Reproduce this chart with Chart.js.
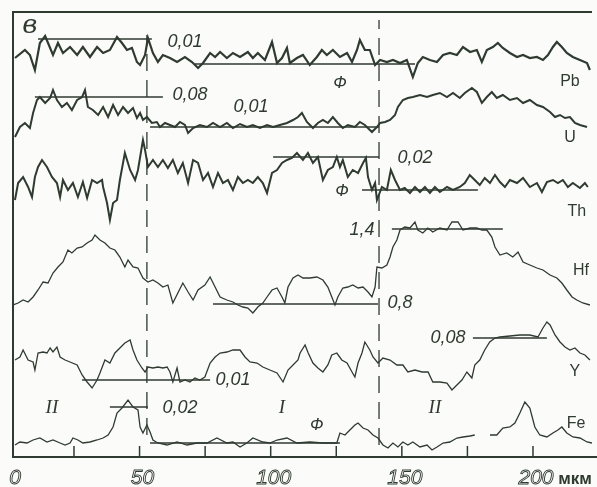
<!DOCTYPE html>
<html>
<head>
<meta charset="utf-8">
<script src="https://cdn.jsdelivr.net/npm/chart.js@4/dist/chart.umd.min.js"></script>
<style>
  html, body { margin: 0; padding: 0; background: #fbfcf9; }
  canvas { display: block; }
</style>
</head>
<body>
<canvas id="c" width="597" height="487"></canvas>
<script>
// Microprobe profiles across the grain, distance in µm; each element trace is offset vertically.
const pb = [[2.5,399],[6.3,407],[8.2,402],[10.1,387],[12.0,414],[14.0,421],[17.0,402],[18.9,414],[20.8,404],[23.5,410],[26.2,402],[28.4,410],[31.1,400],[33.8,410],[36.1,404],[38.7,407],[41.4,420],[43.3,414],[45.2,407],[47.1,409],[49.0,395],[50.2,392],[52.1,402],[53.2,419],[55.1,404],[57.0,395],[58.9,402],[61.6,399],[64.3,395],[67.3,400],[70.0,395],[72.3,389],[74.2,394],[76.9,404],[78.8,400],[80.7,405],[83.3,399],[85.6,404],[88.3,400],[91.3,405],[93.2,399],[95.1,404],[97.8,397],[100.5,415],[102.4,394],[104.3,399],[106.2,409],[107.3,394],[110.0,399],[112.3,402],[114.9,392],[117.6,400],[119.5,407],[121.4,402],[123.7,407],[126.4,400],[129.1,404],[131.0,395],[132.9,407],[134.0,417],[135.9,407],[137.8,407],[139.8,392],[141.7,397],[144.3,395],[146.6,397],[149.3,394],[151.9,397],[154.2,380],[156.1,394],[158.0,400],[160.7,397],[163.4,395],[165.7,402],[168.3,404],[171.0,402],[173.3,410],[176.0,405],[178.6,407],[180.5,395],[182.4,407],[184.7,410],[186.6,414],[188.5,409],[191.2,404],[193.9,400],[196.2,402],[198.8,399],[201.5,400],[203.8,397],[205.7,402],[207.6,410],[209.1,415],[211.0,410],[212.9,404],[215.2,400],[217.9,397],[220.6,394],[221.7,387]];

const u = [[2.5,320],[4.4,330],[6.3,334],[8.2,329],[9.4,344],[10.9,357],[12.0,360],[14.0,354],[15.9,359],[17.0,367],[18.5,357],[20.4,350],[22.3,354],[24.2,347],[26.2,357],[28.1,360],[29.2,367],[30.3,350],[32.2,347],[34.2,342],[36.1,350],[38.0,340],[39.9,352],[41.8,342],[43.7,350],[45.6,344],[47.5,349],[49.0,339],[50.2,344],[51.3,337],[52.8,340],[54.7,334],[56.6,335],[57.8,330],[59.7,334],[61.6,332],[63.5,330],[65.4,335],[67.3,332],[68.5,324],[70.4,329],[73.0,332],[75.7,330],[78.0,334],[80.7,330],[83.3,334],[85.6,329],[88.3,333],[91.0,330],[93.2,332],[95.9,329],[98.6,332],[100.9,330],[103.5,332],[106.2,334],[108.5,337],[110.4,340],[111.9,344],[113.8,335],[116.1,329],[118.0,334],[119.9,337],[121.8,334],[123.7,340],[125.6,334],[127.5,329],[129.4,332],[132.1,330],[134.0,335],[135.9,332],[138.6,325],[140.5,330],[141.7,334],[143.6,335],[145.5,337],[147.4,342],[148.5,350],[150.4,357],[152.3,359],[154.2,360],[156.9,362],[159.6,360],[161.8,362],[164.5,364],[167.2,360],[169.5,364],[172.1,359],[174.0,364],[176.7,369],[178.6,365],[180.5,354],[182.4,360],[184.3,365],[186.2,359],[188.5,362],[191.2,357],[193.9,359],[196.2,354],[198.8,357],[201.5,352],[203.8,350],[206.5,345],[208.4,340],[210.3,342],[212.2,339],[214.1,340],[216.0,334],[217.9,332],[220.6,330]];

const th = [[2.5,257],[3.7,274],[5.6,280],[7.5,270],[9.0,260],[10.1,280],[11.3,290],[12.8,297],[14.7,290],[16.6,280],[18.5,274],[19.7,260],[20.8,277],[22.7,267],[24.6,274],[26.5,260],[28.4,275],[30.0,259],[31.9,277],[33.8,274],[35.7,277],[36.1,270],[37.6,254],[38.7,237],[39.9,254],[41.4,257],[42.5,277],[44.4,304],[46.4,287],[48.3,277],[49.4,287],[51.3,317],[52.1,307],[53.2,290],[55.1,297],[57.0,290],[58.9,297],[60.8,289],[62.7,297],[64.6,284],[66.5,294],[68.5,274],[70.4,297],[72.3,294],[74.2,277],[76.1,284],[78.0,270],[79.9,284],[81.8,274],[83.7,277],[85.6,267],[87.5,280],[89.4,274],[91.3,277],[93.2,274],[95.1,280],[97.0,274],[98.6,264],[100.5,284],[102.4,287],[104.3,294],[106.2,297],[108.1,299],[110.0,304],[112.3,297],[114.2,304],[116.1,294],[118.0,300],[119.9,277],[121.8,287],[123.7,290],[125.2,300],[126.4,290],[127.5,297],[129.4,280],[131.3,287],[133.3,284],[135.2,294],[136.3,299],[137.1,280],[138.6,267],[139.8,274],[140.5,257],[142.4,270],[144.3,267],[145.8,287],[147.4,277],[149.3,267],[151.1,269],[153.1,264],[155.0,270],[156.9,265],[158.8,270],[160.7,264],[162.6,270],[164.5,265],[167.2,270],[169.5,267],[172.1,270],[174.0,274],[175.9,282],[177.8,277],[179.7,272],[181.6,279],[183.6,274],[185.5,282],[187.4,275],[189.3,270],[191.2,277],[193.9,274],[196.2,279],[198.8,270],[201.5,274],[203.4,265],[205.3,275],[207.6,277],[209.5,274],[211.4,277],[213.3,270],[215.2,274],[217.9,269],[219.8,274],[220.9,270]];

const hf = [[1.8,152],[3.7,154],[5.6,157],[7.5,155],[9.4,160],[11.3,167],[13.2,175],[15.1,174],[17.0,184],[18.9,190],[20.8,195],[22.7,207],[24.2,204],[26.2,209],[28.1,210],[30.0,214],[31.9,217],[33.0,222],[34.9,217],[36.8,214],[38.7,209],[40.6,207],[42.5,200],[44.4,190],[45.6,197],[47.5,190],[49.4,189],[51.3,179],[53.2,175],[55.1,177],[57.0,174],[58.9,170],[60.8,172],[62.7,154],[64.6,164],[66.5,174],[68.5,165],[70.4,157],[72.3,167],[74.9,172],[76.9,180],[78.8,170],[80.7,160],[83.3,157],[85.6,155],[87.5,152],[89.4,150],[91.3,149],[93.2,144],[95.1,150],[97.0,154],[98.6,160],[100.5,167],[102.4,169],[104.3,160],[105.4,154],[106.6,170],[108.5,179],[110.4,182],[112.3,179],[114.9,179],[117.6,180],[119.9,177],[121.8,170],[123.3,160],[124.5,152],[125.6,160],[127.5,169],[129.4,170],[131.3,172],[133.3,169],[135.2,170],[137.1,165],[138.6,160],[139.8,170],[140.5,190],[142.4,189],[144.3,192],[145.5,200],[146.6,210],[148.1,217],[149.3,227],[151.1,230],[153.1,229],[155.0,235],[156.1,227],[158.0,224],[159.9,229],[161.8,225],[164.5,229],[167.2,227],[169.1,235],[171.4,235],[173.3,227],[176.0,229],[178.6,229],[180.5,227],[182.4,227],[184.3,220],[185.5,210],[187.4,202],[190.0,204],[192.3,200],[194.3,205],[196.2,195],[198.8,192],[201.5,189],[203.8,187],[206.5,182],[209.1,179],[211.0,174],[212.9,167],[214.9,160],[216.7,157],[219.0,154],[221.7,152]];

const yt = [[2.5,97],[4.4,100],[5.6,107],[7.5,97],[9.4,95],[10.1,87],[11.3,104],[13.2,105],[14.7,104],[15.9,109],[17.0,105],[18.5,110],[19.7,100],[21.6,97],[23.5,95],[26.2,92],[28.1,82],[30.0,75],[31.9,69],[33.8,77],[34.9,84],[36.8,97],[38.7,94],[40.6,104],[42.5,109],[44.4,114],[46.4,117],[47.5,107],[49.0,97],[50.9,89],[52.1,85],[53.2,90],[55.1,89],[57.0,90],[58.9,89],[60.5,90],[61.6,85],[62.7,75],[64.3,89],[65.4,75],[67.3,77],[69.2,75],[71.1,79],[73.0,77],[74.9,80],[76.9,94],[78.8,100],[80.7,104],[83.3,105],[85.6,107],[88.3,107],[90.2,100],[92.1,95],[94.8,94],[97.0,90],[99.7,87],[102.4,84],[104.7,75],[106.6,87],[108.5,92],[110.4,97],[111.2,104],[113.1,112],[114.3,104],[116.1,94],[118.0,89],[119.9,85],[121.8,92],[123.3,102],[125.2,104],[127.1,97],[129.1,94],[131.0,85],[132.1,80],[133.3,94],[134.8,104],[135.9,115],[137.8,107],[139.0,100],[140.9,94],[142.8,99],[145.5,97],[148.1,92],[150.4,92],[152.3,85],[155.0,87],[157.7,85],[160.0,85],[161.8,75],[164.5,75],[167.2,74],[169.1,67],[171.0,72],[172.9,77],[174.8,85],[176.7,79],[177.8,92],[179.7,97],[181.6,107],[183.5,115],[185.5,119],[187.4,120],[191.2,121],[195.0,122],[198.8,122],[201.9,120],[203.8,129],[205.3,135],[206.5,132],[208.4,122],[210.3,115],[212.2,110],[214.1,107],[216.0,109],[217.9,104],[219.8,102],[221.7,97]];

const fe = [[2.5,12],[4.4,15],[7.1,14],[9.4,17],[12.0,19],[14.7,15],[17.0,17],[19.7,14],[21.6,12],[23.5,14],[24.6,19],[26.5,17],[28.4,14],[31.1,15],[33.8,17],[36.1,19],[38.0,22],[39.9,30],[41.4,44],[43.3,49],[45.6,57],[47.5,50],[49.4,47],[50.2,30],[51.3,24],[52.8,32],[54.0,25],[55.1,17],[57.0,14],[60.5,12],[64.3,15],[68.1,12],[71.9,14],[75.7,14],[79.5,19],[83.3,14],[85.6,15],[88.3,10],[90.9,14],[93.2,19],[97.0,15],[99.7,14],[102.4,17],[106.2,19],[110.0,14],[114.9,15],[119.9,14],[125.2,14],[126.4,24],[128.3,22],[130.2,27],[132.1,32],[133.3,34],[135.2,29],[137.1,27],[139.0,22],[140.9,19],[142.8,12],[144.7,9],[146.6,14],[148.5,10],[150.4,15],[152.3,12],[154.2,15],[156.9,10],[159.6,12],[161.5,7],[163.4,10],[165.7,14],[168.3,15],[171.0,19],[173.3,20],[176.0,21],[177.8,22],[179.0,null],[183.6,22],[186.2,22],[188.5,29],[191.2,30],[193.1,34],[195.0,44],[196.9,55],[198.8,49],[200.7,30],[202.6,22],[205.3,20],[207.6,24],[209.5,27],[211.0,30],[212.9,24],[215.2,20],[217.9,19],[220.6,15],[222.5,14]];

// Concentration levels: [from µm, to µm, level]
const pbLevels = [[11.3,54.7,418],[71.1,155.0,393]];
const uLevels  = [[10.1,58.9,360],[54.0,141.3,330]];
const thLevels = [[100.9,141.3,300],[134.8,179.0,267]];
const hfLevels = [[146.2,188.5,228],[78.0,140.9,153]];
const yLevels  = [[28.1,76.9,77],[177.1,205.3,119]];
const feLevels = [[38.7,53.2,50],[54.0,126.4,14]];

// Zone boundaries (µm) and their vertical extent
const boundaries = [[52.8, 22, 422], [141.3, 12, 437]];

const xTicks = [0, 50, 100, 150, 200];
const xMinorTicks = [25, 50, 75, 100, 125, 150, 175, 200];

const INK = '#2f3a30';

// Text placed on the plot: [text, µm, level, kind]
const notes = [
  ['в', 8.2, 431, 'panel'],
  ['0,01', 67.3, 415, 'conc'], ['Ф', 126.4, 374, 'phase'], ['Pb', 214.1, 375, 'elem'],
  ['0,08', 69.2, 362, 'conc'], ['0,01', 92.5, 350, 'conc'], ['U', 214.1, 319, 'elem'],
  ['0,02', 155.0, 299, 'conc'], ['Ф', 127.2, 266, 'phase'], ['Th', 216.7, 245, 'elem'],
  ['1,4', 134.8, 227, 'conc'], ['0,8', 149.3, 154, 'conc'], ['Hf', 218.3, 186, 'elem'],
  ['0,01', 85.6, 77, 'conc'], ['0,08', 167.6, 119, 'conc'], ['Y', 216.0, 85, 'elem'],
  ['II', 16.6, 49, 'zone'], ['I', 104.3, 49, 'zone'], ['II', 162.6, 49, 'zone'],
  ['0,02', 65.4, 49, 'conc'], ['Ф', 117.6, 32, 'phase'], ['Fe', 216.4, 33, 'elem']
];

const toPts = arr => arr.map(([x, y]) => ({ x, y }));

function trace(data, width) {
  return { data: toPts(data), borderColor: INK, borderWidth: width, pointRadius: 0,
           tension: 0, spanGaps: false, fill: false };
}
function levels(list) {
  return list.map(([a, b, v]) => ({
    data: [{ x: a, y: v }, { x: b, y: v }], borderColor: INK, borderWidth: 1.3,
    pointRadius: 0, fill: false
  }));
}
const boundarySets = boundaries.map(([x, y0, y1]) => ({
  data: [{ x, y: y0 }, { x, y: y1 }], borderColor: INK, borderWidth: 1.3,
  borderDash: [17, 9], pointRadius: 0, fill: false
}));

const fonts = {
  panel: 'italic 26px "DejaVu Serif"',
  conc:  'italic 18px "Liberation Sans"',
  phase: 'italic 17px "Liberation Sans"',
  elem:  '16px "Liberation Sans Narrow", "Liberation Sans"',
  zone:  'italic 19px "Liberation Serif"'
};

const decor = {
  id: 'decor',
  afterDraw(chart) {
    const { ctx, chartArea: a, scales: { x, y } } = chart;
    ctx.save();
    ctx.strokeStyle = INK;
    ctx.fillStyle = INK;
    ctx.lineWidth = 2;
    ctx.beginPath();
    ctx.moveTo(a.left, a.top); ctx.lineTo(a.right, a.top);
    ctx.moveTo(a.left, a.top - 1); ctx.lineTo(a.left, a.bottom);
    ctx.lineTo(chart.width, a.bottom);
    ctx.stroke();

    ctx.lineWidth = 1.5;
    xMinorTicks.forEach(v => {
      const px = x.getPixelForValue(v);
      ctx.beginPath(); ctx.moveTo(px, a.bottom); ctx.lineTo(px, a.bottom - 11); ctx.stroke();
    });

    ctx.textAlign = 'center';
    ctx.textBaseline = 'middle';
    notes.forEach(([t, xv, yv, kind]) => {
      ctx.font = fonts[kind];
      ctx.fillText(t, x.getPixelForValue(xv), y.getPixelForValue(yv));
    });

    ctx.font = 'italic 21px "Liberation Sans"';
    ctx.lineWidth = 0.9;
    xTicks.forEach(v => {
      const px = Math.max(x.getPixelForValue(v) + 3, a.left + 2);
      ctx.strokeText(String(v), px, a.bottom + 21);
    });
    ctx.font = 'bold 17px "Liberation Sans Narrow", "Liberation Sans"';
    ctx.fillText('мкм', x.getPixelForValue(200) + 42, a.bottom + 22);
    ctx.restore();
  }
};

new Chart(document.getElementById('c'), {
  type: 'line',
  data: {
    datasets: [
      trace(pb, 2.2), trace(u, 2.0), trace(th, 2.0),
      trace(hf, 1.3), trace(yt, 1.3), trace(fe, 1.3),
      ...levels(pbLevels), ...levels(uLevels), ...levels(thLevels),
      ...levels(hfLevels), ...levels(yLevels), ...levels(feLevels),
      ...boundarySets
    ]
  },
  options: {
    responsive: false,
    animation: false,
    layout: { padding: { left: 13, top: 12, right: 5, bottom: 30 } },
    plugins: { legend: { display: false }, tooltip: { enabled: false } },
    scales: {
      x: { type: 'linear', min: 1.75, max: 222.5, display: false },
      y: { type: 'linear', min: 0, max: 445, display: false }
    }
  },
  plugins: [decor]
});
</script>
</body>
</html>
